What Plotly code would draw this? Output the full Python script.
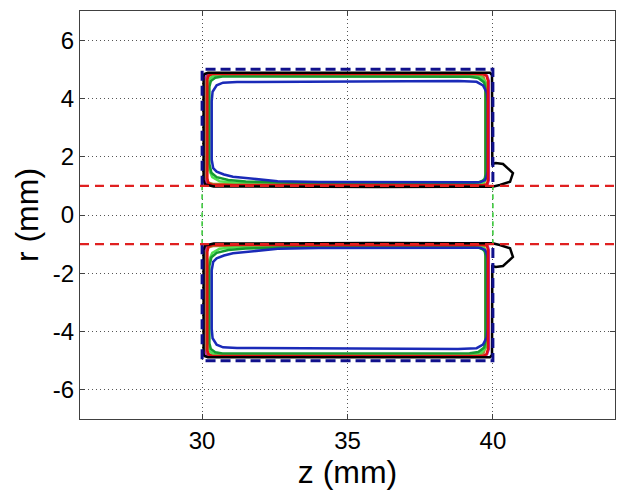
import plotly.graph_objects as go

# Contour traces of the upper cavity (r > 0); the lower cavity is the axisymmetric mirror r -> -r.
blue_z = [39.55, 38.0, 36.0, 34.0, 32.6, 31.88, 31.4, 31.06, 30.75, 30.5, 30.38, 30.33, 30.33, 30.36,
          30.5, 30.72, 31.2, 33.0, 35.0, 37.0, 38.8, 39.44, 39.66, 39.79, 39.82, 39.82, 39.78, 39.73, 39.55]
blue_r = [1.12, 1.12, 1.12, 1.13, 1.16, 1.23, 1.27, 1.31, 1.39, 1.49, 1.61, 1.9, 3.9, 4.23,
          4.45, 4.54, 4.56, 4.57, 4.58, 4.58, 4.6, 4.57, 4.45, 4.2, 3.9, 1.5, 1.3, 1.2, 1.12]

green_z = [39.3, 36.0, 33.0, 31.5, 30.9, 30.5, 30.32, 30.25, 30.25, 30.3, 30.45, 30.7, 33.0, 36.0,
           39.2, 39.5, 39.7, 39.75, 39.75, 39.72, 39.65, 39.5, 39.3]
green_r = [1.1, 1.1, 1.11, 1.15, 1.2, 1.3, 1.45, 1.75, 4.4, 4.6, 4.71, 4.75, 4.75, 4.75,
           4.74, 4.7, 4.55, 4.3, 1.4, 1.25, 1.18, 1.12, 1.1]

lgreen_z = [39.4, 36.0, 33.0, 31.2, 30.6, 30.35, 30.22, 30.22, 30.26, 30.4, 30.6, 33.0, 36.0,
            39.3, 39.6, 39.75, 39.78, 39.78, 39.72, 39.6, 39.4]
lgreen_r = [1.07, 1.07, 1.08, 1.1, 1.16, 1.3, 1.6, 4.5, 4.68, 4.77, 4.8, 4.8, 4.8,
            4.79, 4.72, 4.55, 4.3, 1.3, 1.16, 1.09, 1.07]

olive_z = [39.6, 36.0, 32.0, 30.4, 30.2, 30.15, 30.15, 30.2, 30.35, 33.0, 36.0, 39.5, 39.68,
           39.74, 39.74, 39.7, 39.6]
olive_r = [1.05, 1.05, 1.05, 1.06, 1.12, 1.3, 4.6, 4.76, 4.82, 4.82, 4.82, 4.81, 4.74,
           4.55, 1.25, 1.1, 1.05]

magenta_z = [39.7, 36.0, 32.0, 30.3, 30.15, 30.12, 30.12, 30.16, 30.3, 33.0, 36.0, 39.6, 39.8,
             39.86, 39.86, 39.82, 39.7]
magenta_r = [1.0, 1.0, 1.0, 1.02, 1.08, 1.3, 4.65, 4.8, 4.86, 4.86, 4.86, 4.85, 4.78,
             4.6, 1.2, 1.06, 1.0]

red_z = [39.7, 36.0, 32.0, 30.35, 30.22, 30.18, 30.18, 30.22, 30.35, 33.0, 36.0, 39.65, 39.78,
         39.83, 39.83, 39.8, 39.7]
red_r = [1.02, 1.02, 1.02, 1.03, 1.08, 1.25, 4.65, 4.78, 4.84, 4.84, 4.85, 4.84, 4.78,
         4.6, 1.2, 1.07, 1.02]

black_z = [39.98, 40.24, 40.59, 40.69, 40.35, 40.1, 39.98, 39.97, 39.9, 36.0, 33.0, 30.2, 30.08,
           30.05, 30.05, 30.1, 30.4, 33.0, 36.0, 39.0, 39.98]
black_r = [0.97, 1.03, 1.14, 1.44, 1.75, 1.78, 1.75, 4.8, 4.88, 4.89, 4.89, 4.88, 4.84,
           4.75, 1.2, 1.05, 0.98, 0.96, 0.96, 0.97, 0.97]

# Cavity outline, axis gaps and the beam-pipe radius
wall_z = [30, 30, 40, 40]
wall_r = [1, 5, 5, 1]
gap_left_z = [30, 30]
gap_right_z = [40, 40]
gap_r = [-1, 1]
pipe_z = [25.8, 44.2]
pipe_r = 1.0

x_ticks = [30, 35, 40]
y_ticks = [-6, -4, -2, 0, 2, 4, 6]

fig = go.Figure()


def add_pair(z, r, color, width=2.5, dash="solid"):
    for sign in (1, -1):
        fig.add_trace(go.Scatter(
            x=z, y=[sign * v for v in r], mode="lines",
            line=dict(color=color, width=width, dash=dash),
            showlegend=False, hoverinfo="skip"))


add_pair(magenta_z, magenta_r, "#c020b0")
add_pair(olive_z, olive_r, "#a88a30")
add_pair(lgreen_z, lgreen_r, "#50e050")
add_pair(green_z, green_r, "#159a30")
add_pair(blue_z, blue_r, "#1a2ab8")
add_pair(red_z, red_r, "#e01010")
add_pair(black_z, black_r, "#000000")
add_pair(wall_z, wall_r, "#10108c", width=3, dash="10px,5px")

for gz in (gap_left_z, gap_right_z):
    fig.add_trace(go.Scatter(x=gz, y=gap_r, mode="lines",
                             line=dict(color="#3cc83c", width=1.6, dash="5px,4px"),
                             showlegend=False, hoverinfo="skip"))

for sign in (1, -1):
    fig.add_trace(go.Scatter(x=pipe_z, y=[sign * pipe_r] * 2, mode="lines",
                             line=dict(color="#e02020", width=2.2, dash="9px,6px"),
                             showlegend=False, hoverinfo="skip"))

font_family = "Liberation Sans, Arial"
axis_common = dict(
    showline=True, mirror="ticks", linecolor="#404040", linewidth=1,
    ticks="inside", ticklen=5, tickcolor="#404040",
    showgrid=True, gridcolor="#555555", gridwidth=1, griddash="1px,3px",
    zeroline=False, tickfont=dict(family=font_family, size=24, color="#000"),
)

fig.update_xaxes(range=[25.8, 44.2], tickvals=x_ticks,
                 title=dict(text="z (mm)", font=dict(family=font_family, size=32, color="#000"),
                            standoff=2),
                 **axis_common)
fig.update_yaxes(range=[-7, 7], tickvals=y_ticks, ticktext=[str(v) for v in y_ticks],
                 title=dict(text="r (mm)", font=dict(family=font_family, size=32, color="#000"),
                            standoff=4),
                 **axis_common)

fig.update_layout(
    width=617, height=491,
    margin=dict(l=80, r=2, t=11, b=72),
    paper_bgcolor="white", plot_bgcolor="white",
)

fig.write_html("out.html")
